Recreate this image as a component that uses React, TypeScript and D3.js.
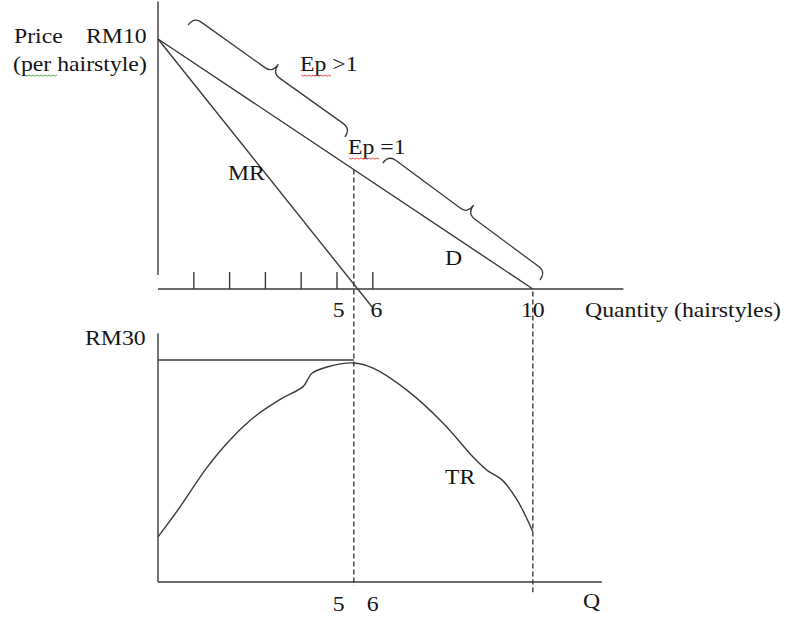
import React from "react";
import * as d3 from "d3";

// ---- data ----
const tickQ = [1, 2, 3, 4, 5, 6];
const demandQ = [0, 10.47];
const demandP = [10, 0];
const mrQ = [0, 5.98];
const mrP = [10, -0.72];
const keyQ = [5.47, 10.47]; // dashed guide lines (Ep = 1 point, D intercept)
const topQLabels = ["5", "6", "10"];
const topQLabelPos = [5.05, 6.1, 10.47];
const botQLabels = ["5", "6"];
const botQLabelPos = [5.05, 6.0];
const trQ = [0, 0.61, 1.37, 2.09, 2.77, 3.49, 4.05, 4.3, 4.72, 5.47, 6.01, 6.96, 7.96, 8.8, 9.19, 9.61, 10.03, 10.47];
const trR = [6.1, 10.1, 15.5, 19.6, 22.6, 24.9, 26.4, 28.2, 29.05, 29.6, 28.9, 25.9, 21.5, 16.9, 15.1, 13.8, 11.1, 6.8];
const trMax = 30;
const brace1 = [[0.84, 10.56], [5.22, 6.08]];
const brace2 = [[6.28, 5.04], [10.67, 0.36]];

const FONT = "'Liberation Serif', 'Times New Roman', serif";
const INK = "#3a3a3a";

function bracePath(x1: number, y1: number, x2: number, y2: number, h: number, r: number) {
  const dx = x2 - x1, dy = y2 - y1;
  const len = Math.sqrt(dx * dx + dy * dy);
  const ux = dx / len, uy = dy / len;
  const nx = uy, ny = -ux; // normal pointing away from the line (up-right)
  const mx = (x1 + x2) / 2, my = (y1 + y2) / 2;
  const p = (x: number, y: number) => `${x.toFixed(1)},${y.toFixed(1)}`;
  return [
    `M${p(x1, y1)}`,
    `Q${p(x1 + nx * h, y1 + ny * h)} ${p(x1 + nx * h + ux * r, y1 + ny * h + uy * r)}`,
    `L${p(mx + nx * h - ux * r, my + ny * h - uy * r)}`,
    `Q${p(mx + nx * h, my + ny * h)} ${p(mx + nx * 2 * h, my + ny * 2 * h)}`,
    `Q${p(mx + nx * h, my + ny * h)} ${p(mx + nx * h + ux * r, my + ny * h + uy * r)}`,
    `L${p(x2 + nx * h - ux * r, y2 + ny * h - uy * r)}`,
    `Q${p(x2 + nx * h, y2 + ny * h)} ${p(x2, y2)}`,
  ].join(" ");
}

function squiggle(x: number, y: number, w: number) {
  const pts: [number, number][] = [];
  for (let i = 0; i <= Math.round(w / 2); i++) pts.push([x + i * 2, y + (i % 2 ? 1.2 : 0)]);
  return d3.line()(pts) || "";
}

const SX = 1.08;
function T({ x, y, children, anchor }: { x: number; y: number; children: React.ReactNode; anchor?: "start" | "middle" }) {
  return (
    <text
      transform={`translate(${x},${y}) scale(${SX},1)`}
      textAnchor={anchor || "start"}
      style={{ fontFamily: FONT, fontSize: 22, fill: "#151515" }}
    >
      {children}
    </text>
  );
}

export default function App() {
  const x = d3.scaleLinear().domain([0, 13]).range([158, 623.4]);
  const yTop = d3.scaleLinear().domain([0, 10]).range([289, 39]);
  const yBot = d3.scaleLinear().domain([0, trMax]).range([582, 360]);

  const demand = d3.line<number>().x((d, i) => x(demandQ[i])).y((d, i) => yTop(demandP[i]))(demandQ) || "";
  const mr = d3.line<number>().x((d, i) => x(mrQ[i])).y((d, i) => yTop(mrP[i]))(mrQ) || "";
  const tr = d3.line<number>().x((d, i) => x(trQ[i])).y((d, i) => yBot(trR[i])).curve(d3.curveCatmullRom.alpha(0.5))(trQ) || "";

  const b1 = bracePath(x(brace1[0][0]), yTop(brace1[0][1]), x(brace1[1][0]), yTop(brace1[1][1]), 10, 9);
  const b2 = bracePath(x(brace2[0][0]), yTop(brace2[0][1]), x(brace2[1][0]), yTop(brace2[1][1]), 10, 9);

  const eq = keyQ[0];
  const pEq = demandP[0] + (demandP[1] - demandP[0]) * (eq - demandQ[0]) / (demandQ[1] - demandQ[0]);

  return (
    <svg width={787} height={617} style={{ position: "absolute", left: 0, top: 0, background: "#fff" }}>
      <g fill="none" stroke={INK} strokeWidth={1.4}>
        {/* top axes */}
        <line x1={x(0)} x2={x(0)} y1={yTop(11.5)} y2={yTop(0.56)} />
        <line x1={x(0)} x2={x(13)} y1={yTop(0)} y2={yTop(0)} />
        {tickQ.map((t) => (
          <line key={t} x1={x(t)} x2={x(t)} y1={yTop(0)} y2={yTop(0.68)} />
        ))}
        <path d={demand} />
        <path d={mr} />
        <path d={b1} strokeWidth={1.3} strokeLinejoin="round" />
        <path d={b2} strokeWidth={1.3} strokeLinejoin="round" />
        {/* dashed guides */}
        <line x1={x(eq)} x2={x(eq)} y1={yTop(pEq)} y2={yBot(-0.5)} strokeDasharray="5,3" />
        <line x1={x(keyQ[1])} x2={x(keyQ[1])} y1={yTop(-0.1)} y2={yBot(-1.4)} strokeDasharray="5,3" />
        {/* bottom axes */}
        <line x1={x(0)} x2={x(0)} y1={yBot(33.6)} y2={yBot(0)} />
        <line x1={x(0)} x2={x(12.4)} y1={yBot(0)} y2={yBot(0)} />
        <line x1={x(0)} x2={x(eq)} y1={yBot(trMax)} y2={yBot(trMax)} />
        <path d={tr} />
      </g>
      {/* text */}
      <T x={14} y={43}>Price</T>
      <T x={86} y={43}>RM10</T>
      <T x={13} y={71}>(per hairstyle)</T>
      <T x={300} y={71}>Ep &gt;1</T>
      <T x={348} y={154}>Ep =1</T>
      <T x={228} y={180}>MR</T>
      <T x={445} y={265}>D</T>
      {topQLabels.map((t, i) => (
        <T key={t} x={x(topQLabelPos[i])} y={317} anchor="middle">{t}</T>
      ))}
      <T x={585} y={317}>Quantity (hairstyles)</T>
      <T x={85} y={345}>RM30</T>
      <T x={445} y={484}>TR</T>
      {botQLabels.map((t, i) => (
        <T key={"b" + t} x={x(botQLabelPos[i])} y={611} anchor="middle">{t}</T>
      ))}
      <T x={583} y={608}>Q</T>
      {/* spell-check squiggles */}
      <g fill="none" strokeWidth={0.9}>
        <path d={squiggle(301, 75, 29)} stroke="#e0403a" />
        <path d={squiggle(349, 158, 29)} stroke="#e0403a" />
        <path d={squiggle(25, 75, 32)} stroke="#3aa03a" />
      </g>
    </svg>
  );
}
